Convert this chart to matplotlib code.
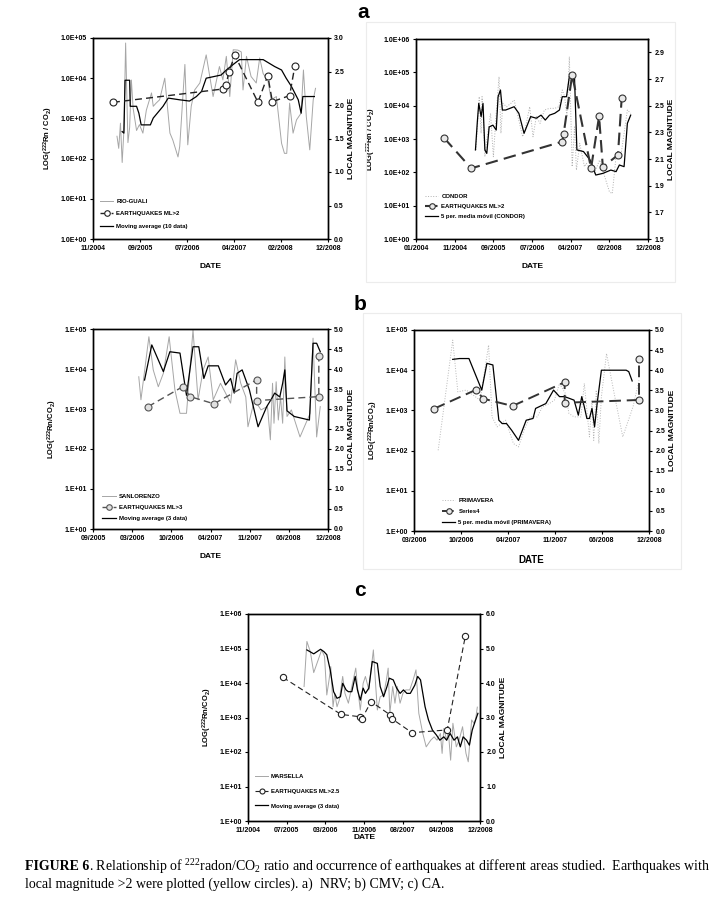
import numpy as np
import matplotlib
matplotlib.use("Agg")
import matplotlib.pyplot as plt
from matplotlib.lines import Line2D
from matplotlib.patches import Rectangle

plt.rcParams['font.family'] = ['Liberation Sans', 'DejaVu Sans']

# ---------------- a (left): Rio Guali ----------------
rg_t = [2005.25, 2005.28, 2005.31, 2005.34, 2005.37, 2005.40, 2005.44, 2005.47, 2005.50, 2005.53,
        2005.59, 2005.64, 2005.70, 2005.76, 2005.85, 2005.88, 2005.93, 2005.99, 2006.08, 2006.17,
        2006.22, 2006.31, 2006.34, 2006.43, 2006.48, 2006.54, 2006.60, 2006.69, 2006.80, 2006.92,
        2007.03, 2007.09, 2007.15, 2007.21, 2007.27, 2007.35, 2007.41, 2007.44, 2007.50, 2007.58,
        2007.67, 2007.73, 2007.79, 2007.87, 2007.93, 2008.02, 2008.11, 2008.16, 2008.20, 2008.25,
        2008.31, 2008.37, 2008.45, 2008.49, 2008.54, 2008.60, 2008.66, 2008.70]
rg_v = [360, 180, 760, 80, 500, 75000, 250, 600, 9000, 1800,
        500, 700, 430, 1600, 4300, 2000, 2400, 2900, 10000, 430,
        290, 110, 200, 22000, 220, 2000, 5100, 7600, 38000, 3500,
        19500, 9100, 35000, 3500, 51000, 50000, 45000, 5100, 35000, 11000,
        7600, 32000, 13000, 9000, 2900, 3500, 240, 135, 135, 2400,
        430, 920, 1350, 16000, 1100, 165, 2900, 5600]
rg_ma_t = [2005.34, 2005.37, 2005.39, 2005.47, 2005.48, 2005.59, 2005.63, 2005.67, 2005.83, 2005.88,
           2006.05, 2006.14, 2006.34, 2006.51, 2006.63, 2006.72, 2006.80, 2007.06, 2007.15, 2007.27,
           2007.38, 2007.79, 2007.99, 2008.11, 2008.19, 2008.28, 2008.40, 2008.45, 2008.48, 2008.68]
rg_ma_v = [470, 430, 8900, 8900, 2000, 2000, 1350, 690, 690, 1020,
           2000, 3200, 2900, 2700, 3500, 4700, 10000, 12000, 16000, 22000,
           29000, 29000, 19500, 16000, 10000, 6300, 2900, 1350, 3500, 3500]
rg_eq_t = [2005.18, 2007.10, 2007.15, 2007.19, 2007.30, 2007.70, 2007.87, 2007.95, 2008.25, 2008.34]
rg_eq_m = [2.04, 2.24, 2.30, 2.49, 2.74, 2.04, 2.44, 2.05, 2.14, 2.58]
rg_dates = ["11/2004", "09/2005", "07/2006", "04/2007", "02/2008", "12/2008"]

# ---------------- a (right): Condor ----------------
cd_t = [2005.27, 2005.31, 2005.34, 2005.38, 2005.40, 2005.43, 2005.46, 2005.50, 2005.54, 2005.58,
        2005.64, 2005.70, 2005.76, 2005.80, 2005.84, 2005.92, 2006.01, 2006.08, 2006.26, 2006.31,
        2006.41, 2006.48, 2006.55, 2006.63, 2006.72, 2006.83, 2006.94, 2007.03, 2007.10, 2007.15,
        2007.20, 2007.25, 2007.31, 2007.36, 2007.40, 2007.47, 2007.57, 2007.61, 2007.71, 2007.78,
        2007.89, 2008.10, 2008.16, 2008.24, 2008.34, 2008.48, 2008.55]
cd_v = [470, 3700, 18600, 1480, 18600, 3700, 295, 930, 2300, 5900,
        295, 5900, 74000, 1480, 11700, 9300, 11700, 14800, 1170, 1860,
        9300, 1170, 4700, 2950, 7400, 8300, 8300, 9300, 29500, 18600,
        4700, 295000, 148, 2300, 117, 740, 148, 186, 117, 93,
        234, 26, 23, 295, 295, 7400, 5900]
cd_ma_t = [2005.26, 2005.30, 2005.33, 2005.38, 2005.42, 2005.46, 2005.50, 2005.55, 2005.63, 2005.70,
           2005.74, 2005.79, 2005.83, 2005.90, 2006.08, 2006.18, 2006.29, 2006.43, 2006.55, 2006.65,
           2006.74, 2006.83, 2006.94, 2007.04, 2007.10, 2007.19, 2007.25, 2007.36, 2007.41, 2007.55,
           2007.69, 2007.81, 2007.96, 2008.13, 2008.24, 2008.31, 2008.41, 2008.48, 2008.55]
cd_ma_v = [470, 3300, 11700, 4700, 11700, 470, 370, 2300, 2600, 1860,
           18600, 29500, 7400, 7400, 9300, 5900, 1480, 4700, 4200, 5200,
           3700, 5200, 5900, 7400, 18600, 18600, 74000, 66000, 470, 420,
           234, 83, 93, 117, 105, 166, 148, 2950, 5200]
cd_eq_t = [2004.59, 2005.17, 2007.10, 2007.13, 2007.31, 2007.71, 2007.88, 2007.96, 2008.28, 2008.36]
cd_eq_m = [2.26, 2.03, 2.23, 2.29, 2.73, 2.03, 2.42, 2.04, 2.13, 2.56]
cd_dates = ["01/2004", "11/2004", "09/2005", "07/2006", "04/2007", "02/2008", "12/2008"]

# ---------------- b (left): San Lorenzo ----------------
sl_t = [2006.30, 2006.33, 2006.44, 2006.50, 2006.57, 2006.64, 2006.72, 2006.80, 2006.87, 2006.96,
        2007.05, 2007.12, 2007.19, 2007.26, 2007.33, 2007.43, 2007.50, 2007.57, 2007.64, 2007.71,
        2007.78, 2007.81, 2007.90, 2007.99, 2008.08, 2008.12, 2008.15, 2008.17, 2008.20, 2008.23,
        2008.26, 2008.29, 2008.32, 2008.35, 2008.41, 2008.53, 2008.67, 2008.71, 2008.76, 2008.81]
sl_v = [6400, 1700, 64000, 9500, 3600, 7800, 64000, 3000, 780, 780,
        95000, 1700, 9500, 20000, 1700, 4400, 2500, 1400, 17000, 4400,
        2000, 360, 1700, 950, 1150, 170, 4400, 440, 4800, 530,
        2000, 440, 20000, 650, 950, 200, 780, 59000, 200, 1150]
sl_ma_t = [2006.38, 2006.48, 2006.64, 2006.73, 2006.87, 2006.96, 2007.05, 2007.13, 2007.20, 2007.26,
           2007.40, 2007.50, 2007.57, 2007.62, 2007.66, 2007.73, 2007.83, 2007.95, 2008.07, 2008.14,
           2008.18, 2008.25, 2008.29, 2008.32, 2008.35, 2008.45, 2008.55, 2008.66, 2008.71, 2008.76,
           2008.81]
sl_ma_v = [5300, 40000, 8600, 27000, 25000, 2200, 36000, 36000, 5800, 12000,
           12000, 4000, 5800, 2500, 7800, 9500, 3000, 360, 1150, 1850,
           2500, 2000, 4400, 9500, 900, 650, 590, 530, 44000, 44000,
           27000]
sl_eq_t = [2006.43, 2006.91, 2007.01, 2007.34, 2007.93, 2007.93, 2008.79, 2008.79]
sl_eq_m = [3.06, 3.56, 3.31, 3.13, 3.73, 3.21, 3.31, 4.33]
sl_dates = ["09/2005", "03/2006", "10/2006", "04/2007", "11/2007", "06/2008", "12/2008"]

# ---------------- b (right): Primavera ----------------
pv_t = [2006.45, 2006.62, 2006.68, 2006.78, 2006.94, 2007.04, 2007.08, 2007.14, 2007.24, 2007.33,
        2007.39, 2007.47, 2007.53, 2007.61, 2007.67, 2007.75, 2007.81, 2007.87, 2007.94, 2007.98,
        2008.04, 2008.12, 2008.16, 2008.22, 2008.25, 2008.27, 2008.30, 2008.33, 2008.36, 2008.42,
        2008.51, 2008.61, 2008.73, 2008.80]
pv_v = [102, 56000, 2900, 3200, 1800, 42000, 690, 390, 570, 150,
        124, 390, 690, 690, 1230, 1480, 1800, 4700, 2600, 840,
        690, 690, 4700, 220, 1800, 180, 3200, 150, 2200, 26000,
        2600, 220, 1230, 5600]
pv_ma_t = [2006.62, 2006.70, 2006.81, 2006.96, 2007.02, 2007.09, 2007.16, 2007.20, 2007.25, 2007.31,
           2007.39, 2007.48, 2007.56, 2007.59, 2007.71, 2007.80, 2007.87, 2007.93, 2008.04, 2008.09,
           2008.13, 2008.16, 2008.19, 2008.22, 2008.25, 2008.28, 2008.31, 2008.36, 2008.65, 2008.68,
           2008.72]
pv_ma_v = [18600, 19500, 19500, 3200, 14800, 13500, 570, 470, 470, 320,
           180, 570, 630, 1120, 1480, 3200, 2200, 2200, 1800, 760,
           2200, 1230, 630, 630, 1120, 390, 1480, 10000, 10000, 9200,
           5400]
pv_eq_t = [2006.40, 2006.89, 2006.98, 2007.32, 2007.93, 2007.93, 2008.80, 2008.80]
pv_eq_m = [3.04, 3.51, 3.29, 3.11, 3.70, 3.19, 3.26, 4.29]
pv_dates = ["03/2006", "10/2006", "04/2007", "11/2007", "06/2008", "12/2008"]

# ---------------- c: Marsella ----------------
ms_t = [2005.82, 2005.87, 2005.93, 2005.99, 2006.13, 2006.18, 2006.22, 2006.26, 2006.29, 2006.33,
        2006.36, 2006.40, 2006.44, 2006.50, 2006.54, 2006.60, 2006.66, 2006.73, 2006.76, 2006.81,
        2006.86, 2006.90, 2006.96, 2007.02, 2007.04, 2007.07, 2007.11, 2007.16, 2007.22, 2007.27,
        2007.30, 2007.33, 2007.38, 2007.42, 2007.46, 2007.51, 2007.56, 2007.61, 2007.68, 2007.74,
        2007.79, 2007.84, 2007.91, 2007.97, 2008.05, 2008.11, 2008.16, 2008.22, 2008.25, 2008.28,
        2008.33, 2008.36, 2008.40, 2008.44, 2008.50, 2008.55, 2008.61, 2008.67, 2008.71, 2008.77,
        2008.81, 2008.84, 2008.87]
ms_v = [7900, 160000, 81000, 20000, 91000, 59000, 4500, 12300, 30000, 2050,
        5000, 2050, 3200, 15500, 5000, 2600, 7900, 27000, 7900, 1650,
        9800, 15500, 6300, 47000, 91000, 15500, 1650, 4000, 4500, 12300,
        27000, 1320, 7900, 2600, 7900, 2600, 5000, 6300, 6300, 12300,
        24000, 1320, 345, 141, 220, 275, 220, 345, 91, 480,
        220, 390, 58, 680, 141, 220, 540, 91, 52, 850,
        680, 900, 2000]
ms_ma_t = [2005.87, 2005.99, 2006.11, 2006.17, 2006.22, 2006.28, 2006.34, 2006.40, 2006.46, 2006.50,
           2006.56, 2006.60, 2006.66, 2006.72, 2006.76, 2006.81, 2006.86, 2006.90, 2006.96, 2007.02,
           2007.11, 2007.16, 2007.22, 2007.28, 2007.32, 2007.39, 2007.45, 2007.51, 2007.57, 2007.63,
           2007.69, 2007.77, 2007.82, 2007.87, 2007.95, 2008.01, 2008.08, 2008.15, 2008.21, 2008.28,
           2008.33, 2008.39, 2008.46, 2008.52, 2008.57, 2008.62, 2008.68, 2008.73, 2008.78, 2008.84,
           2008.88]
ms_ma_v = [91000, 70000, 95000, 81000, 66000, 24000, 5600, 3600, 4000, 9800,
           6300, 5600, 5600, 15500, 6300, 3200, 7100, 5000, 7100, 42000,
           37000, 7900, 4000, 7900, 13800, 12300, 7100, 5000, 6300, 5000,
           5000, 8700, 15500, 12300, 2050, 850, 430, 310, 220, 275,
           220, 345, 220, 275, 141, 275, 220, 158, 430, 850,
           1320]
ms_eq_t = [2005.45, 2006.47, 2006.81, 2006.84, 2007.00, 2007.34, 2007.36, 2007.72, 2008.34, 2008.66]
ms_eq_m = [4.16, 3.09, 3.02, 2.97, 3.46, 3.07, 2.97, 2.56, 2.64, 5.37]
ms_dates = ["11/2004", "07/2005", "03/2006", "11/2006", "08/2007", "04/2008", "12/2008"]

W, H = 726, 911
fig = plt.figure(figsize=(W / 100, H / 100), dpi=100)


def rect(l, t, r, b):
    return [l / W, 1 - b / H, (r - l) / W, (b - t) / H]


def panel(box, raw, ma, eq, dates, xlim, ydec, yfmt, mag, names, ylab,
          raw_ls='-', raw_c='#a6a6a6', eq_face='white', eq_edge='black',
          eq_lw=0.9, eq_dash=(5, 3), ms=5, leg_anchor=(0.02, 0.05), leg_sp=1.2,
          date_pad=8, date_size=6):
    ax = fig.add_axes(rect(*box))
    ax.set_yscale('log')
    ax.plot(raw[0], raw[1], color=raw_c, lw=0.7, ls=raw_ls)
    ax.plot(ma[0], ma[1], color='black', lw=0.9)
    ax.set_xlim(*xlim)
    ax.set_ylim(1, 10 ** ydec)
    ax.set_yticks([10 ** k for k in range(ydec + 1)])
    ax.set_yticklabels([yfmt.format(k) for k in range(ydec + 1)])
    ax.yaxis.set_minor_locator(plt.NullLocator())
    ax.set_xticks(np.linspace(xlim[0], xlim[1], len(dates)))
    ax.set_xticklabels(dates)
    ax.set_ylabel(ylab, fontsize=5.5, fontweight='bold', labelpad=4)
    ax.set_xlabel("DATE", fontsize=date_size, fontweight='bold', labelpad=date_pad)

    ax2 = ax.twinx()
    ax2.plot(eq[0], eq[1], color=eq_edge, lw=eq_lw, ls=(0, eq_dash),
             marker='o', ms=ms, mfc=eq_face, mec=eq_edge, mew=0.8)
    ax2.set_ylim(mag[0], mag[1])
    ax2.set_yticks(mag[2])
    ax2.set_yticklabels(["%.1f" % m for m in mag[2]])
    ax2.set_ylabel("LOCAL MAGNITUDE", fontsize=6, fontweight='bold', labelpad=3)

    for a in (ax, ax2):
        a.tick_params(direction='out', length=2.5, width=0.8, labelsize=5, pad=2)
        for lab in a.get_xticklabels() + a.get_yticklabels():
            lab.set_fontweight('bold')
        for s in a.spines.values():
            s.set_linewidth(1.0)

    handles = [Line2D([], [], color=raw_c, lw=0.7, ls=raw_ls),
               Line2D([], [], color=eq_edge, lw=eq_lw, ls=(0, eq_dash), marker='o',
                      ms=ms * 0.8, mfc=eq_face, mec=eq_edge, mew=0.8),
               Line2D([], [], color='black', lw=0.9)]
    ax2.legend(handles, names, loc='lower left', bbox_to_anchor=leg_anchor,
               frameon=False, handlelength=2.2, handletextpad=0.5,
               labelspacing=leg_sp, borderpad=0, borderaxespad=0,
               prop={'weight': 'bold', 'size': 4.3})
    return ax


ylab_a = r"LOG($\mathregular{^{222}}$Rn / CO$\mathregular{_2}$)"
ylab_b = r"LOG($\mathregular{^{222}}$Rn/CO$\mathregular{_2}$)"

# faint chart-area borders of the two right-hand charts
fig.patches.append(Rectangle((366 / W, 1 - 282 / H), 309 / W, 260 / H, transform=fig.transFigure,
                             fill=False, ec='#ececec', lw=0.8))
fig.patches.append(Rectangle((363 / W, 1 - 569 / H), 318 / W, 256 / H, transform=fig.transFigure,
                             fill=False, ec='#ececec', lw=0.8))

panel((93, 38, 328, 239), (rg_t, rg_v), (rg_ma_t, rg_ma_v), (rg_eq_t, rg_eq_m), rg_dates,
      (2004.833, 2008.917), 5, "1.0E+{:02d}", (0, 3.0, np.arange(0, 3.01, 0.5)),
      ["RIO-GUALI", "EARTHQUAKES ML>2", "Moving average (10 data)"], ylab_a,
      eq_face='white', eq_edge='#222222', eq_lw=1.0, ms=5, leg_anchor=(0.03, 0.05), leg_sp=1.25)

panel((416, 39, 648, 239), (cd_t, cd_v), (cd_ma_t, cd_ma_v), (cd_eq_t, cd_eq_m), cd_dates,
      (2004.0, 2008.917), 6, "1.0E+{:02d}", (1.5, 3.0, np.arange(1.5, 2.95, 0.2)),
      ["CONDOR", "EARTHQUAKES ML>2", "5 per. media móvil (CONDOR)"], ylab_a,
      raw_ls=':', raw_c='#b0b0b0', eq_face='#e8e8e8', eq_edge='#333333', eq_lw=1.5,
      eq_dash=(6, 3), ms=5, leg_anchor=(0.04, 0.1), leg_sp=0.8)

panel((93, 329, 328, 529), (sl_t, sl_v), (sl_ma_t, sl_ma_v), (sl_eq_t, sl_eq_m), sl_dates,
      (2005.667, 2008.917), 5, "1.E+{:02d}", (0, 5.0, np.arange(0, 5.01, 0.5)),
      ["SANLORENZO", "EARTHQUAKES ML>3", "Moving average (3 data)"], ylab_b,
      eq_face='#e0e0e0', eq_edge='#555555', eq_lw=1.0, eq_dash=(5, 3), ms=5,
      leg_anchor=(0.04, 0.04), leg_sp=1.0)

panel((414, 330, 649, 531), (pv_t, pv_v), (pv_ma_t, pv_ma_v), (pv_eq_t, pv_eq_m), pv_dates,
      (2006.167, 2008.917), 5, "1.E+{:02d}", (0, 5.0, np.arange(0, 5.01, 0.5)),
      ["PRIMAVERA", "Series4", "5 per. media móvil (PRIMAVERA)"], ylab_b,
      raw_ls=':', raw_c='#b8b8b8', eq_face='#e8e8e8', eq_edge='#333333', eq_lw=1.4,
      eq_dash=(6, 3), ms=5, leg_anchor=(0.12, 0.03), leg_sp=1.0, date_size=7)

panel((248, 614, 480, 821), (ms_t, ms_v), (ms_ma_t, ms_ma_v), (ms_eq_t, ms_eq_m), ms_dates,
      (2004.833, 2008.917), 6, "1.E+{:02d}", (0, 6.0, np.arange(0, 6.01, 1.0)),
      ["MARSELLA", "EARTHQUAKES ML>2.5", "Moving average (3 data)"], ylab_b,
      eq_face='white', eq_edge='#222222', eq_lw=0.8, eq_dash=(5, 3), ms=4.5,
      leg_anchor=(0.03, 0.06), leg_sp=1.6, date_pad=0)

# panel letters
for letter, x, y in [("a", 363, 12), ("b", 360, 305), ("c", 360, 590)]:
    fig.text(x / W, 1 - y / H, letter, fontsize=15, fontweight='bold', ha='center', va='center')

# caption
serif = ['Liberation Serif', 'DejaVu Serif']
r = fig.canvas.get_renderer()
t1 = fig.text(25 / W, 1 - 867 / H, "FIGURE 6", fontsize=10, fontweight='bold', family=serif, va='center')
bb = t1.get_window_extent(renderer=r)
fig.text(bb.x1 / W, 1 - 867 / H,
         r". Relationship of $\mathregular{^{222}}$radon/CO$\mathregular{_2}$ ratio and occurrence of "
         "earthquakes at different areas studied.  Earthquakes with",
         fontsize=10, family=serif, va='center')
fig.text(25 / W, 1 - 884 / H,
         "local magnitude >2 were plotted (yellow circles). a)  NRV; b) CMV; c) CA.",
         fontsize=10, family=serif, va='center')

fig.savefig("out.png", dpi=100)
